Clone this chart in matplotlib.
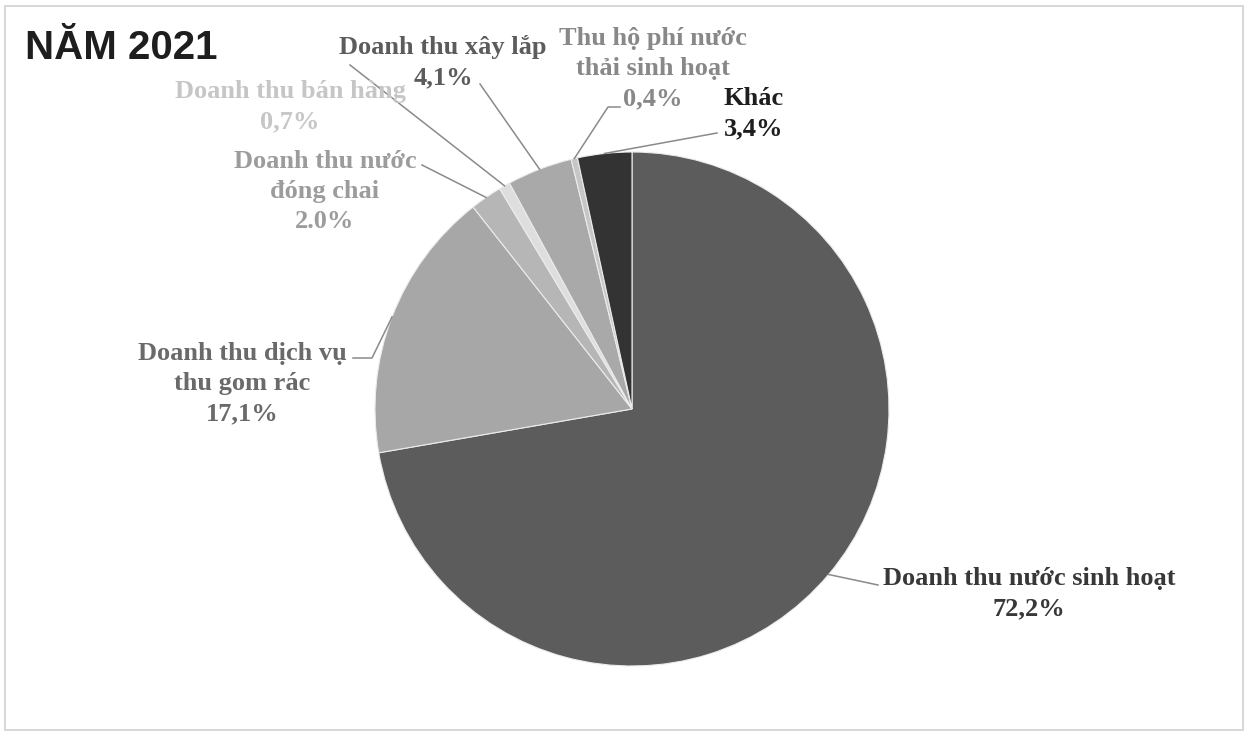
import numpy as np
import matplotlib
matplotlib.use("Agg")
import matplotlib.pyplot as plt
from matplotlib.patches import Rectangle

# data, clockwise from 12 o'clock
labels = ["Doanh thu nước sinh hoạt", "Doanh thu dịch vụ\nthu gom rác",
          "Doanh thu nước\nđóng chai", "Doanh thu bán hàng", "Doanh thu xây lắp",
          "Thu hộ phí nước\nthải sinh hoạt", "Khác"]
values = [72.2, 17.1, 2.0, 0.7, 4.1, 0.4, 3.4]
pct_text = ["72,2%", "17,1%", "2.0%", "0,7%", "4,1%", "0,4%", "3,4%"]

slice_colors = ["#5c5c5c", "#a7a7a7", "#b6b6b6", "#dedede", "#a9a9a9", "#c6c6c6", "#333333"]
text_colors = ["#383838", "#6a6a6a", "#9c9c9c", "#c6c6c6", "#5c5c5c", "#888888", "#1e1e1e"]

W, H = 1248, 736
LINE_H = 30
def Y(y):
    # picture rows -> data y
    return H - y

# label centre x and centre of the first text line, leader end at the text
label_pos = [(1029, 577), (242, 352), (325, 160), (290, 90), (443, 46), (653, 37), (754, 97)]
leader_end = [(878, 585), (353, 358), (422, 165), (350, 65), (480, 84), (620, 107), (717, 133)]
leader_elbow = [None, (372, 358), None, None, None, (608, 107), None]

fig = plt.figure(figsize=(W / 100, H / 100), dpi=100)
ax = fig.add_axes([0, 0, 1, 1])

cx, cy, r = 632, Y(409), 257
wedges, _ = ax.pie(values, colors=slice_colors, startangle=90, counterclock=False,
                   center=(cx, cy), radius=r, frame=True,
                   wedgeprops=dict(edgecolor="#ececec", linewidth=0.8))
ax.set_xlim(0, W)
ax.set_ylim(0, H)
ax.set_aspect("equal")
ax.axis("off")

for i, w in enumerate(wedges):
    mid = np.deg2rad((w.theta1 + w.theta2) / 2)
    px, py = cx + r * np.cos(mid), cy + r * np.sin(mid)
    pts = [(px, py)]
    if leader_elbow[i] is not None:
        pts.append((leader_elbow[i][0], Y(leader_elbow[i][1])))
    pts.append((leader_end[i][0], Y(leader_end[i][1])))
    xs, ys = zip(*pts)
    ax.plot(xs, ys, color="#8a8a8a", lw=1.1)

    # one text per line so the spacing matches the scan
    lx, ly = label_pos[i]
    lines = labels[i].split("\n") + [pct_text[i]]
    for k, line in enumerate(lines):
        ax.text(lx, Y(ly + k * LINE_H + 8), line, ha="center", va="baseline",
                fontsize=19, fontweight="bold", family="Liberation Serif",
                color=text_colors[i])

ax.text(25, Y(48), "NĂM 2021", ha="left", va="center", fontsize=29,
        fontweight="bold", family="Liberation Sans", color="#1e1e1e")

fig.patches.append(Rectangle((0.004, 0.008), 0.992, 0.984, transform=fig.transFigure,
                             fill=False, edgecolor="#cfcfcf", lw=1.2))

fig.savefig("out.png", dpi=100, facecolor="white")
